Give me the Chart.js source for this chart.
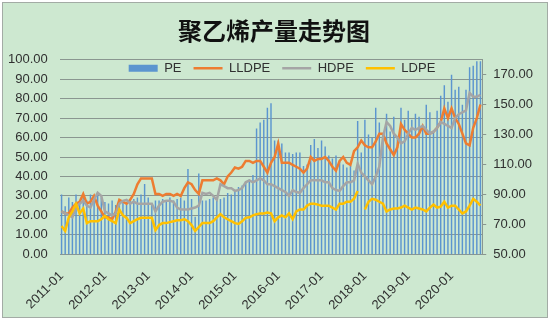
<!DOCTYPE html>
<html>
<head>
<meta charset="utf-8">
<script src="https://cdn.jsdelivr.net/npm/chart.js@4.4.1/dist/chart.umd.min.js"></script>
<style>
    html, body { margin: 0; padding: 0; background: #ffffff; }
    #frame {
        position: absolute; left: 2px; top: 2px; width: 544px; height: 314px;
        background: #cde8d0; border: 1px solid #a3aba5;
    }
    #wrap { position: absolute; left: 0; top: 0; width: 550px; height: 322px; }
</style>
</head>
<body>
<div id="frame"></div>
<div id="wrap"><canvas id="chartID" width="550" height="322"></canvas></div>
<script>
// monthly, 2011-01 .. 2020-09
const meses = [];
for (let ano = 2011; ano <= 2020; ano++) {
    for (let m = 1; m <= 12; m++) {
        if (ano === 2020 && m > 9) break;
        meses.push(ano + '-' + String(m).padStart(2, '0'));
    }
}

// PE production (right axis)
const pe = [
    90, 82, 88, 85, 90, 84, 88, 86, 90, 88, 90, 88,
    85, 84, 86, 83, 85, 86, 84, 86, 87, 88, 90, 97,
    88, 84, 86, 86, 87, 85, 88, 86, 87, 88, 86, 107,
    87, 75, 104, 86, 86, 87, 88, 86, 87, 88, 91, 90,
    92, 95, 96, 99, 100, 103, 134, 138, 140, 148, 151, 126,
    126, 124, 118, 118, 117, 118, 118, 109, 110, 123, 127, 121,
    126, 122, 116, 114, 116, 112, 110, 108, 109, 106, 139, 118,
    140, 130, 128, 148, 138, 130, 144, 132, 142, 128, 148, 140,
    146, 140, 144, 142, 135, 150, 145, 133, 146, 156, 163, 152,
    170, 160, 162, 150, 160, 175, 176, 179, 179
];

// left axis series
const lldpe = [
    22, 21, 21, 24, 26, 27, 31, 26, 27, 30, 25, 22,
    19, 19, 18, 22, 28, 27, 26, 28, 31, 36, 39, 39,
    39, 39, 31, 31, 30, 31, 31, 30, 31, 30, 34, 37,
    36, 33, 31, 38, 38, 38, 38, 39, 38, 36, 40, 42,
    44.6, 44, 45, 48, 48, 47, 48, 48, 45, 42, 47, 50,
    57, 47, 47, 47, 46, 45, 44, 42, 44, 50, 48, 49,
    49, 50, 48, 45, 43, 48, 50, 47, 46, 53, 55, 58.5,
    56, 55, 55, 58, 62, 62, 57, 54, 51, 55, 67, 64,
    62, 60, 60, 62, 66, 62, 62, 63, 65, 68, 75, 70,
    75, 70, 67, 62, 57, 56, 65, 70, 77
];

const hdpe = [
    22, 21, 20, 19, 24, 26, 27.5, 25, 24, 28, 31.6, 30,
    22, 21, 20, 21, 26, 27.5, 28, 26, 27, 26, 26, 26,
    26, 26, 22, 25, 27, 27.5, 27.5, 27, 24, 23, 23, 23,
    23.5, 24, 25, 31.6, 31, 31.6, 30, 28, 36, 35, 34, 34,
    32.6, 33, 34, 37, 38, 37, 38, 39, 38, 36, 36, 35,
    34, 33, 32, 30, 33, 32, 31.6, 34, 36, 38, 38, 38,
    38, 37, 37, 34, 33, 32.6, 35, 37, 37, 38, 46.6, 42,
    40, 38, 36, 40, 45, 60, 68, 66, 62, 60, 57, 58,
    62, 65, 64, 65, 66, 64, 62, 63, 65, 68, 67, 66,
    65, 70, 72, 73, 74, 83, 81, 81, 82
];

const ldpe = [
    14.5, 12, 19, 22, 26, 21, 23.5, 16, 17, 17, 17, 18,
    19.7, 18, 17, 16, 23, 20, 18.7, 16, 17, 18, 18.7, 18.7,
    18.7, 18.7, 12.4, 15, 16, 16, 16.5, 17, 17.5, 17.5, 18, 17,
    15, 12, 14, 16, 16, 16, 17, 19, 20.6, 19, 18, 17,
    16, 15.6, 17, 18.7, 19, 20, 20.6, 21, 21, 21.5, 21, 17,
    19, 20, 19, 21, 18, 22, 23, 23, 25, 26, 26, 25.5,
    25, 25, 25, 24, 23, 26, 26, 27, 27, 28.5, 32.5, null,
    23, 27, 28.5, 28, 27, 26, 22, 23, 23.5, 23.5, 24, 25,
    24, 23, 24, 23.5, 23, 22, 24, 25.5, 24, 24.5, 27, 24,
    25, 25, 23, 21, 22, 25, 28.5, 27, 25
];

const ticksEsq = [0, 10, 20, 30, 40, 50, 60, 70, 80, 90, 100];
const ticksDir = [50, 70, 90, 110, 130, 150, 170];

const fonte = "'Liberation Sans', Arial, sans-serif";
const corTexto = '#303030';
const corGrade = '#8a9690';

// legend takes no room in the layout and is drawn over the top of the plot
const legendaDentro = {
    id: 'legendaDentro',
    afterInit(chart) {
        const leg = chart.legend;
        if (!leg) return;
        const fitOriginal = leg.fit;
        leg.fit = function () {
            fitOriginal.call(this);
            this.alturaReal = this.height;
            this.height = 0;
        };
    },
    afterLayout(chart) {
        const leg = chart.legend;
        if (!leg) return;
        leg.top -= 10;
        leg.height = leg.alturaReal;
        leg.bottom = leg.top + leg.height;
        leg.left += 8;
        leg.right += 8;
    }
};

new Chart(document.getElementById('chartID'), {
    type: 'bar',
    data: {
        labels: meses,
        datasets: [
            {
                type: 'bar',
                label: 'PE',
                data: pe,
                yAxisID: 'y1',
                backgroundColor: '#5b95cf',
                borderWidth: 0,
                barPercentage: 0.4,
                categoryPercentage: 1.0,
                order: 4
            },
            {
                type: 'line',
                label: 'LLDPE',
                data: lldpe,
                yAxisID: 'y',
                borderColor: '#ed7d31',
                backgroundColor: '#ed7d31',
                borderWidth: 2.5,
                pointRadius: 0,
                tension: 0,
                order: 3
            },
            {
                type: 'line',
                label: 'HDPE',
                data: hdpe,
                yAxisID: 'y',
                borderColor: '#a5a5a5',
                backgroundColor: '#a5a5a5',
                borderWidth: 2.5,
                pointRadius: 0,
                tension: 0,
                order: 2
            },
            {
                type: 'line',
                label: 'LDPE',
                data: ldpe,
                yAxisID: 'y',
                borderColor: '#ffc000',
                backgroundColor: '#ffc000',
                borderWidth: 2.5,
                pointRadius: 0,
                tension: 0,
                spanGaps: false,
                order: 1
            }
        ]
    },
    options: {
        responsive: false,
        animation: false,
        events: [],
        layout: {
            padding: { top: 8, left: 8, right: 10, bottom: 3 }
        },
        plugins: {
            tooltip: { enabled: false },
            title: {
                display: true,
                text: '聚乙烯产量走势图',
                color: '#111111',
                font: { family: "'Noto Sans CJK SC', sans-serif", size: 24, weight: 'bold' },
                padding: { top: 8, bottom: 15 }
            },
            legend: {
                display: true,
                position: 'top',
                align: 'center',
                labels: {
                    color: corTexto,
                    font: { family: fonte, size: 13 },
                    usePointStyle: true,
                    pointStyleWidth: 29,
                    boxHeight: 7,
                    padding: 12,
                    sort: (a, b) => a.datasetIndex - b.datasetIndex,
                    generateLabels(chart) {
                        const itens = Chart.defaults.plugins.legend.labels.generateLabels(chart);
                        itens.forEach(item => {
                            const ds = chart.data.datasets[item.datasetIndex];
                            if (ds.type === 'bar') {
                                item.pointStyle = 'rect';
                                item.lineWidth = 0;
                            } else {
                                item.pointStyle = 'line';
                                item.lineWidth = 2.5;
                                item.strokeStyle = ds.borderColor;
                            }
                        });
                        return itens;
                    }
                }
            }
        },
        scales: {
            x: {
                offset: true,
                grid: { display: false },
                border: { display: false },
                ticks: {
                    autoSkip: false,
                    maxRotation: 45,
                    minRotation: 45,
                    color: corTexto,
                    font: { family: fonte, size: 13 },
                    padding: 6,
                    callback: function (valor, i) {
                        return i % 12 === 0 ? meses[i] : '';
                    }
                }
            },
            y: {
                position: 'left',
                min: 0,
                max: 100,
                afterBuildTicks: axis => { axis.ticks = ticksEsq.map(v => ({ value: v })); },
                grid: { color: corGrade, lineWidth: 1, drawTicks: true, tickLength: 12, tickColor: 'rgba(0,0,0,0)' },
                border: { display: false },
                ticks: {
                    color: corTexto,
                    font: { family: fonte, size: 13 },
                    padding: 0,
                    callback: v => v.toFixed(2)
                }
            },
            y1: {
                position: 'right',
                min: 50,
                max: 180,
                afterBuildTicks: axis => { axis.ticks = ticksDir.map(v => ({ value: v })); },
                grid: { drawOnChartArea: false, drawTicks: true, tickLength: 4, color: corGrade },
                border: { display: true, color: corGrade },
                ticks: {
                    color: corTexto,
                    font: { family: fonte, size: 13 },
                    padding: 7,
                    callback: v => v.toFixed(2)
                }
            }
        }
    },
    plugins: [legendaDentro]
});
</script>
</body>
</html>
